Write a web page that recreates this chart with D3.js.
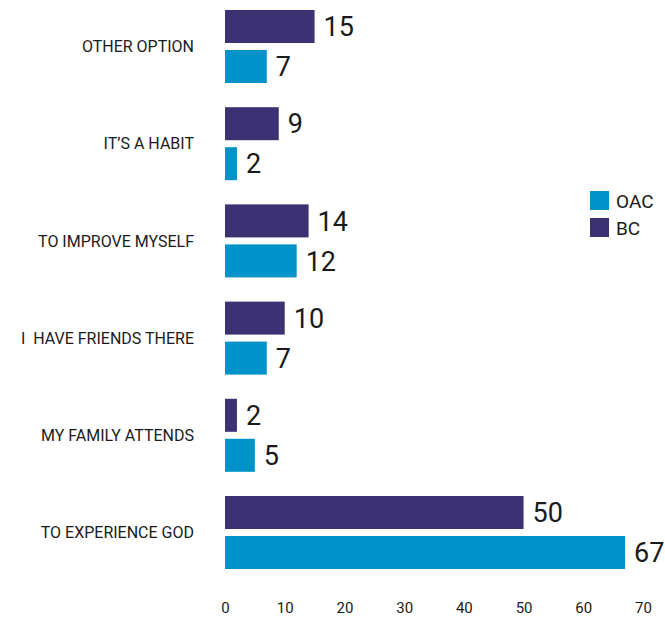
<!DOCTYPE html>
<html><head><meta charset="utf-8">
<script src="https://cdn.jsdelivr.net/npm/d3@7"></script>
<style>body{margin:0;background:#fff}svg{display:block}</style>
</head><body>
<svg id="c" width="665" height="622"></svg>
<script>
const categories = ["OTHER OPTION","IT\u2019S A HABIT","TO IMPROVE MYSELF","I  HAVE FRIENDS THERE","MY FAMILY ATTENDS","TO EXPERIENCE GOD"];
const seriesNames = ["BC","OAC"];
const bcValues = [15, 9, 14, 10, 2, 50];
const oacValues = [7, 2, 12, 7, 5, 67];
const tickValues = [0,10,20,30,40,50,60,70];
const colors = {BC:"#3b3173", OAC:"#0093c9"};

const svg = d3.select("#c");
const x = d3.scaleLinear().domain([0,70]).range([225,643]);
const y0 = d3.scaleBand().domain(categories).range([10,569]).paddingInner(0.249).paddingOuter(0);
const y1 = d3.scaleBand().domain(seriesNames).range([0,y0.bandwidth()]).paddingInner(0.175);

const data = categories.map((c,i)=>({cat:c, vals:[{s:"BC",v:bcValues[i]},{s:"OAC",v:oacValues[i]}]}));

const g = svg.selectAll("g.grp").data(data).enter().append("g")
  .attr("transform", d=>`translate(0,${y0(d.cat)})`);
g.selectAll("rect").data(d=>d.vals).enter().append("rect")
  .attr("x", x(0)).attr("y", d=>y1(d.s))
  .attr("width", d=>x(d.v)-x(0)).attr("height", y1.bandwidth())
  .attr("fill", d=>colors[d.s]);
g.selectAll("text.val").data(d=>d.vals).enter().append("text")
  .attr("class","val")
  .attr("x", d=>x(d.v)+9).attr("y", d=>y1(d.s)+y1.bandwidth()/2)
  .attr("dy","0.36em")
  .attr("font-family","Roboto, sans-serif").attr("font-size",27)
  .attr("fill","#1a1a1a").text(d=>d.v);

// category labels
svg.append("g").selectAll("text").data(categories).enter().append("text")
  .attr("x",194).attr("y",d=>y0(d)+y0.bandwidth()/2)
  .attr("dy","0.36em").attr("text-anchor","end")
  .style("white-space","pre")
  .attr("font-family","Roboto, sans-serif").attr("font-size",16)
  .attr("fill","#1a1a1a").text(d=>d);

// x axis (labels only)
const ax = svg.append("g").attr("transform","translate(0,602)")
  .call(d3.axisBottom(x).tickValues(tickValues).tickSize(0).tickPadding(0));
ax.select(".domain").remove();
ax.selectAll("text").attr("font-family","Roboto, sans-serif").attr("font-size",15).attr("fill","#1a1a1a");

// legend
const leg = svg.append("g").attr("transform","translate(590,191)");
const legItems = ["OAC","BC"];
const li = leg.selectAll("g").data(legItems).enter().append("g")
  .attr("transform",(d,i)=>`translate(0,${i*27})`);
li.append("rect").attr("width",19).attr("height",19).attr("fill",d=>colors[d]);
li.append("text").attr("x",26).attr("y",10).attr("dy","0.36em")
  .attr("font-family","Roboto, sans-serif").attr("font-size",19)
  .attr("fill","#1a1a1a").text(d=>d);
</script>
</body></html>
